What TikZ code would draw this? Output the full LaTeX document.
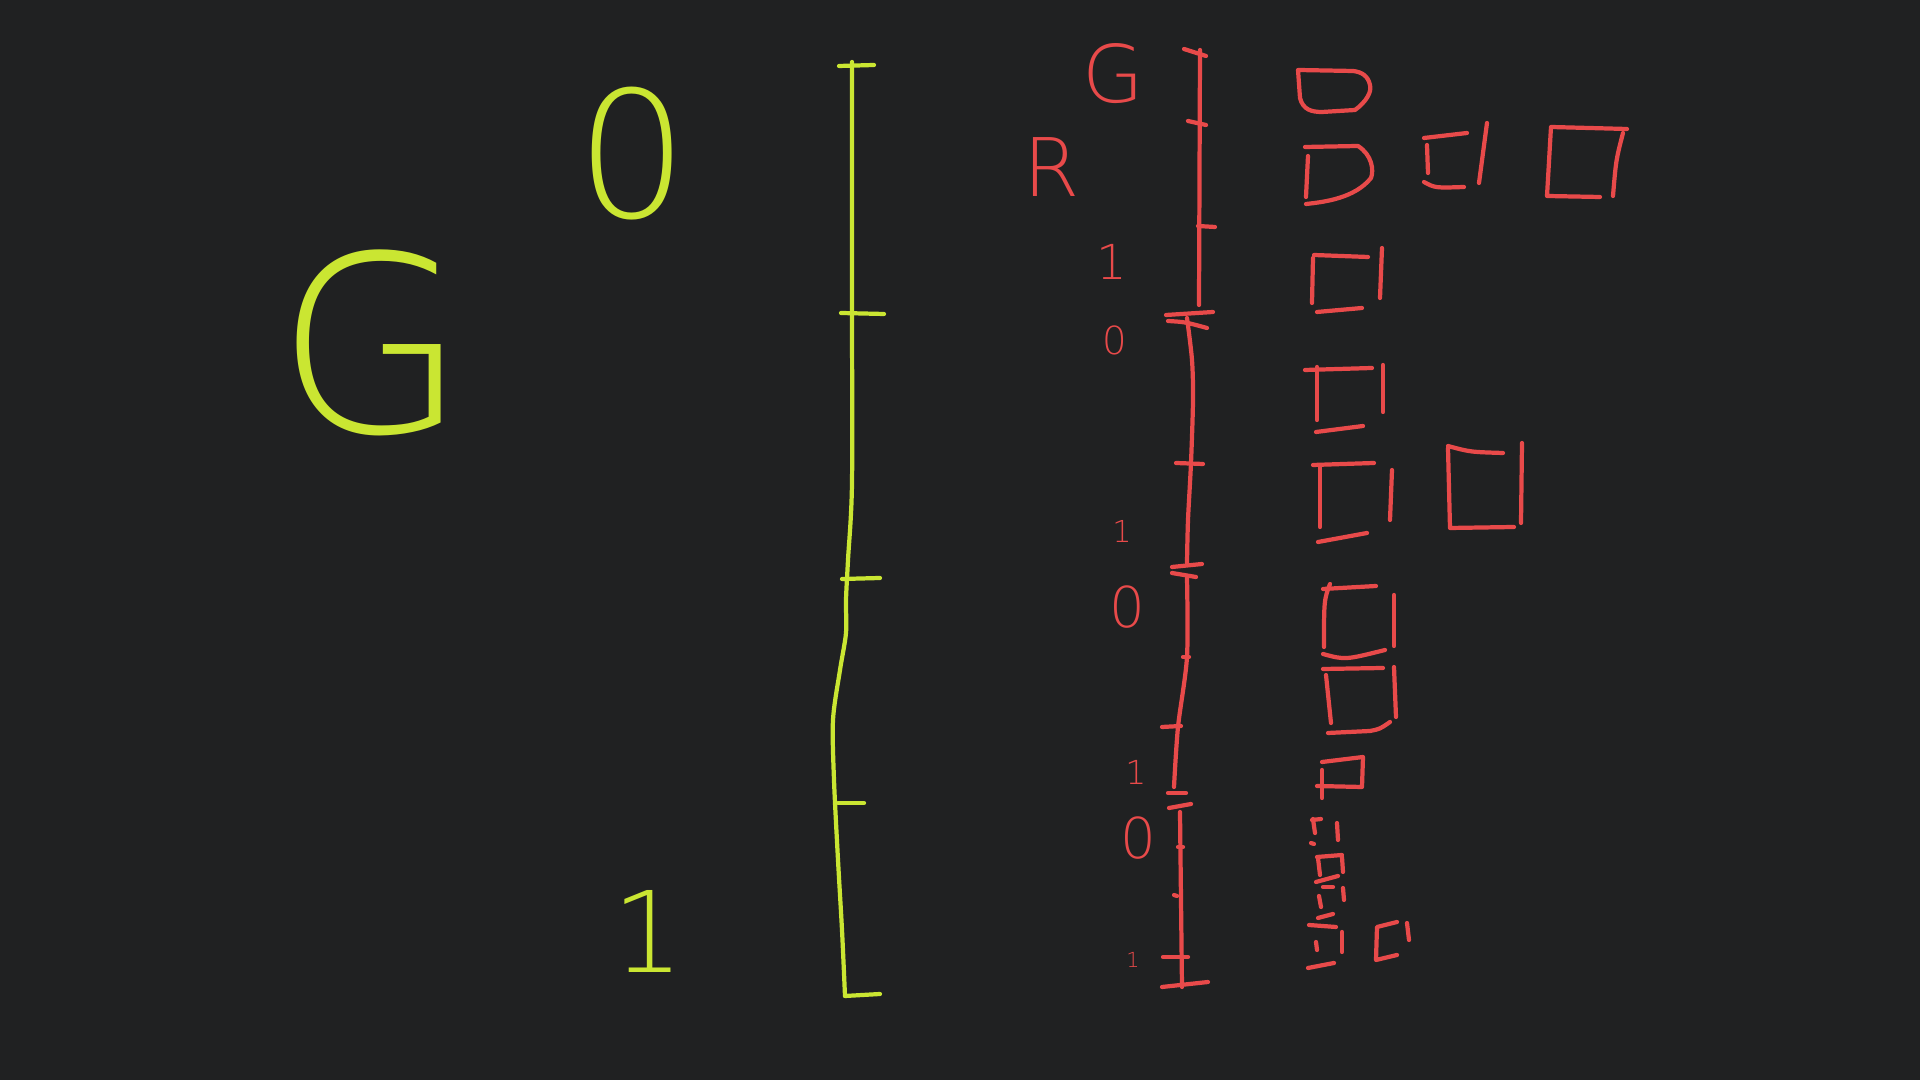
\documentclass[tikz,border=0pt]{standalone}
\usepackage{fontspec}
\newfontfamily\handfont{DejaVu Sans ExtraLight}
\newcommand\penfont[1]{\handfont\fontsize{#1}{#1}\selectfont}
\definecolor{board}{RGB}{32,33,34}
\definecolor{chalky}{RGB}{202,230,50}
\definecolor{chalkr}{RGB}{232,74,74}
\tikzstyle{penY}=[draw=chalky,line width=1.2pt,line cap=round,line join=round]
\tikzstyle{penR}=[draw=chalkr,line width=1.2pt,line cap=round,line join=round]
\tikzstyle{markY}=[text=chalky,inner sep=0pt]
\tikzstyle{markR}=[text=chalkr,inner sep=0pt]

\begin{document}
\begin{tikzpicture}[x=0.01cm,y=-0.01cm]
    \fill[board] (0,0) rectangle (1920,1080);
    \useasboundingbox (0,0) rectangle (1920,1080);

    % yellow side
    \node[markY,font=\penfont{70pt}] (bigG) at (372,343) {G};
    \node[markY,font=\penfont{50pt}] (zeroY) at (632,154) {0};
    \node[markY,font=\penfont{32pt}] (oneY) at (648,931) {1};

    \draw[penY] plot[smooth] coordinates {(852,62) (852,300) (852,483) (848,560)
        (846,600) (846,633) (840,670) (833,720) (834,780) (838,860) (842,930) (845,996)};
    \foreach \xa/\ya/\xb/\yb in {839/66/874/65, 841/313/884/314, 842/579/880/578,
        838/803/864/803, 845/996/880/994}
    \draw[penY] (\xa,\ya) -- (\xb,\yb);

    % red side: labels
    \node[markR,font=\penfont{22.6pt}] (gR) at (1113,74) {G};
    \node[markR,font=\penfont{23pt}] (rR) at (1052,167) {R};
    \node[markR,font=\penfont{13.7pt}] (oneA) at (1112,262) {1};
    \node[markR,font=\penfont{11pt}] (zeroA) at (1115,340) {0};
    \node[markR,font=\penfont{8.6pt}] (oneB) at (1122,531) {1};
    \node[markR,font=\penfont{16pt}] (zeroB) at (1127,607) {0};
    \node[markR,font=\penfont{9.4pt}] (oneC) at (1136,772) {1};
    \node[markR,font=\penfont{16pt}] (zeroC) at (1138,838) {0};
    \node[markR,font=\penfont{5.9pt}] (oneD) at (1133,960) {1};

    % red scale
    \draw[penR] (1200,50) -- (1199,305);
    \draw[penR] plot[smooth] coordinates {(1187,318) (1192,360) (1193,400) (1191,463) (1188,520) (1187,563)};
    \draw[penR] plot[smooth] coordinates {(1187,578) (1187,657) (1178,727) (1174,787)};
    \draw[penR] (1180,812) -- (1182,987);
    \foreach \xa/\ya/\xb/\yb in {1184/49/1206/56, 1188/121/1206/125, 1198/226/1215/227,
        1166/315/1213/312, 1176/463/1203/464, 1172/567/1202/564, 1172/573/1196/577,
        1183/657/1189/657, 1162/727/1181/726, 1168/793/1186/793, 1169/808/1191/804,
        1178/847/1183/847, 1174/895/1177/896, 1163/957/1188/957, 1162/987/1208/982}
    \draw[penR] (\xa,\ya) -- (\xb,\yb);
    \draw[penR] (1168,321) .. controls (1185,322) .. (1207,328);

    % red boxes, first column
    \draw[penR] (1298,70) -- (1300,98) .. controls (1303,110) and (1312,112) .. (1322,112)
        -- (1355,110) .. controls (1366,102) and (1372,92) .. (1370,85)
        .. controls (1368,76) and (1362,72) .. (1353,71) -- cycle;
    \draw[penR] (1305,147) -- (1358,146) .. controls (1372,155) and (1374,170) .. (1371,178)
        .. controls (1355,198) and (1325,202) .. (1306,204);
    \draw[penR] (1308,156) -- (1306,197);
    \draw[penR] (1314,255) -- (1368,257);
    \draw[penR] (1313,258) -- (1312,303);
    \draw[penR] (1382,248) -- (1380,298);
    \draw[penR] (1317,312) -- (1362,308);
    \draw[penR] (1305,370) -- (1372,368);
    \draw[penR] (1317,367) -- (1317,420);
    \draw[penR] (1316,432) -- (1363,426);
    \draw[penR] (1383,365) -- (1383,412);
    \draw[penR] (1313,465) -- (1374,463);
    \draw[penR] (1320,467) -- (1320,527);
    \draw[penR] (1318,542) -- (1367,533);
    \draw[penR] (1392,470) -- (1390,520);
    \draw[penR] (1323,589) -- (1376,586);
    \draw[penR] (1330,584) .. controls (1324,600) .. (1324,647);
    \draw[penR] (1323,654) .. controls (1345,660) .. (1385,650);
    \draw[penR] (1394,595) -- (1394,646);
    \draw[penR] (1323,669) -- (1383,668);
    \draw[penR] (1326,675) -- (1331,723);
    \draw[penR] (1328,733) -- (1370,731) .. controls (1380,729) .. (1390,722);
    \draw[penR] (1394,667) -- (1396,717);
    \draw[penR] (1322,762) -- (1363,757) -- (1362,787) -- (1317,786);
    \draw[penR] (1322,770) -- (1322,798);
    % small scribbles
    \foreach \xa/\ya/\xb/\yb in {1313/819/1315/833, 1312/820/1321/819, 1337/823/1338/840,
        1311/843/1314/844, 1317/857/1342/855, 1318/858/1320/875, 1342/857/1343/872,
        1316/882/1338/876, 1323/887/1333/887, 1319/896/1321/907, 1343/888/1344/900,
        1318/918/1333/914, 1309/925/1336/927, 1316/942/1317/950, 1342/932/1342/952,
        1308/968/1334/963}
    \draw[penR] (\xa,\ya) -- (\xb,\yb);
    \draw[penR] (1397,922) -- (1377,927) -- (1376,960) -- (1397,955);
    \draw[penR] (1407,923) -- (1409,940);

    % red boxes, further right
    \draw[penR] (1424,138) -- (1467,133);
    \draw[penR] (1427,145) -- (1428,173);
    \draw[penR] (1424,182) .. controls (1435,188) .. (1464,187);
    \draw[penR] (1487,123) -- (1479,183);
    \draw[penR] (1627,129) -- (1551,127) -- (1547,196) -- (1600,197);
    \draw[penR] (1623,133) .. controls (1616,160) .. (1613,196);
    \draw[penR] (1448,446) .. controls (1470,452) .. (1503,453);
    \draw[penR] (1448,448) -- (1450,528) -- (1514,527);
    \draw[penR] (1522,443) -- (1521,523);
\end{tikzpicture}
\end{document}
